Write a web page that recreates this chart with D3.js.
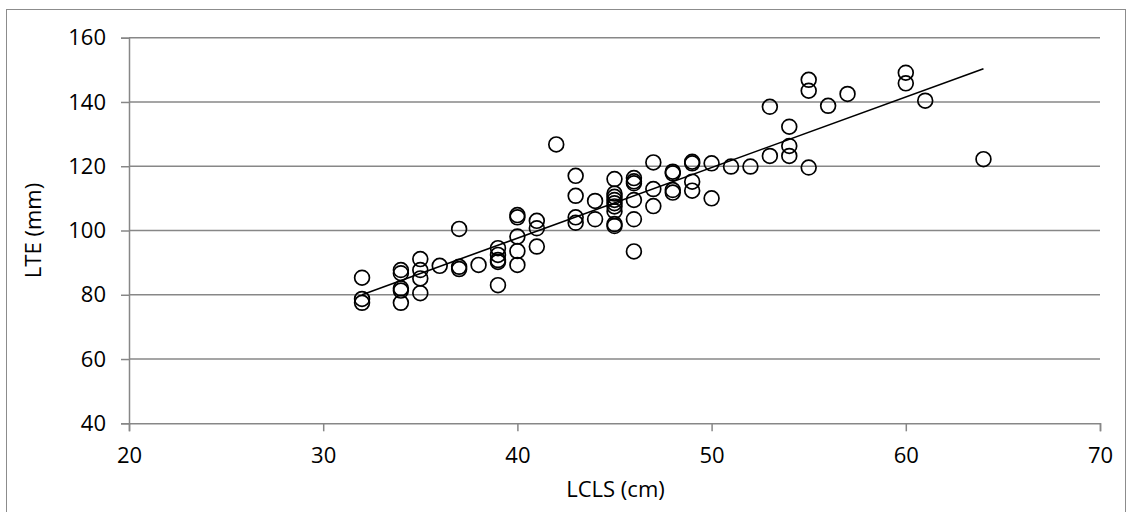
<!DOCTYPE html>
<html>
<head>
<meta charset="utf-8">
<script src="https://cdn.jsdelivr.net/npm/d3@7"></script>
<style>
  html, body { margin: 0; padding: 0; background: #fff; }
  svg { display: block; }
  text { font-family: "Open Sans", "Noto Sans", sans-serif; fill: #000; }
</style>
</head>
<body>
<svg id="chart" width="1131" height="512"></svg>
<script>
// LCLS (cm) for each specimen
const lcls = [
  32, 32, 32,
  34, 34, 34, 34, 34,
  35, 35, 35, 35,
  36,
  37, 37, 37,
  38,
  39, 39, 39, 39, 39,
  40, 40, 40, 40, 40,
  41, 41, 41,
  42,
  43, 43, 43, 43,
  44, 44,
  45, 45, 45, 45, 45, 45, 45, 45, 45,
  46, 46, 46, 46, 46, 46,
  47, 47, 47,
  48, 48, 48, 48,
  49, 49, 49, 49,
  50, 50,
  51,
  52,
  53, 53,
  54, 54, 54,
  55, 55, 55,
  56,
  57,
  60, 60,
  61,
  64
];

// LTE (mm) for each specimen, same order
const lte = [
  85.3, 78.7, 77.5,
  87.7, 86.7, 82.0, 81.3, 77.5,
  91.1, 87.7, 85.1, 80.5,
  89.0,
  100.5, 88.7, 88.0,
  89.3,
  94.5, 92.4, 90.8, 90.2, 83.0,
  104.8, 104.1, 98.1, 93.6, 89.3,
  103.0, 100.7, 95.0,
  126.8,
  117.0, 110.8, 104.1, 102.4,
  109.2, 103.5,
  116.0, 111.5, 110.5, 109.5, 108.5, 107.5, 106.0, 102.0, 101.4,
  116.3, 115.3, 114.7, 109.5, 103.5, 93.5,
  121.2, 112.9, 107.6,
  118.3, 117.8, 112.6, 111.8,
  121.4, 120.9, 115.2, 112.4,
  120.9, 110.0,
  119.9,
  119.9,
  138.5, 123.2,
  132.3, 126.3, 123.2,
  146.9, 143.5, 119.6,
  138.8,
  142.5,
  149.1, 145.8,
  140.4,
  122.2
];

const xTicks = [20, 30, 40, 50, 60, 70];
const yTicks = [40, 60, 80, 100, 120, 140, 160];

const svg = d3.select("#chart");
const margin = { left: 129, right: 31, top: 37.7, bottom: 88.7 };
const W = 1131, H = 512;
const fontSize = 22;

const x = d3.scaleLinear().domain([20, 70]).range([margin.left, W - margin.right]);
const y = d3.scaleLinear().domain([40, 160]).range([H - margin.bottom, margin.top]);

const gridColor = "#878787";

// chart area frame
svg.append("rect")
  .attr("x", 6.5).attr("y", 9.5)
  .attr("width", 1119).attr("height", 510)
  .attr("fill", "none").attr("stroke", "#8c8c8c").attr("stroke-width", 1);

// horizontal gridlines
svg.append("g").selectAll("line")
  .data(yTicks.filter(d => d !== 40))
  .join("line")
  .attr("x1", x(20)).attr("x2", x(70))
  .attr("y1", d => y(d)).attr("y2", d => y(d))
  .attr("stroke", gridColor).attr("stroke-width", 1.5);

// y axis
const yAxis = svg.append("g")
  .attr("transform", `translate(${x(20)},0)`)
  .call(d3.axisLeft(y).tickValues(yTicks).tickSize(8).tickPadding(15).tickFormat(d3.format("d")));
yAxis.select(".domain").attr("stroke", gridColor).attr("stroke-width", 1.5);
yAxis.selectAll(".tick line").attr("stroke", gridColor).attr("stroke-width", 1.5);
yAxis.selectAll(".tick text").attr("font-size", fontSize).style("font-family", "'Open Sans', sans-serif");

// x axis
const xAxis = svg.append("g")
  .attr("transform", `translate(0,${y(40)})`)
  .call(d3.axisBottom(x).tickValues(xTicks).tickSize(8).tickPadding(16).tickFormat(d3.format("d")));
xAxis.select(".domain").attr("stroke", gridColor).attr("stroke-width", 1.5);
xAxis.selectAll(".tick line").attr("stroke", gridColor).attr("stroke-width", 1.5);
xAxis.selectAll(".tick text").attr("font-size", fontSize).style("font-family", "'Open Sans', sans-serif");

// axis titles
svg.append("text")
  .attr("x", (x(20) + x(70)) / 2 + 1).attr("y", 497)
  .attr("text-anchor", "middle").attr("font-size", fontSize)
  .text("LCLS (cm)");

svg.append("text")
  .attr("transform", `translate(41,${(y(40) + y(160)) / 2}) rotate(-90)`)
  .attr("text-anchor", "middle").attr("font-size", fontSize)
  .text("LTE (mm)");

// least-squares linear trend
const pts = lcls.map((v, i) => [v, lte[i]]);
const mx = d3.mean(lcls), my = d3.mean(lte);
const slope = d3.sum(pts, p => (p[0] - mx) * (p[1] - my)) / d3.sum(pts, p => (p[0] - mx) ** 2);
const intercept = my - slope * mx;
const xMin = d3.min(lcls), xMax = d3.max(lcls);

svg.append("line")
  .attr("x1", x(xMin)).attr("y1", y(intercept + slope * xMin))
  .attr("x2", x(xMax)).attr("y2", y(intercept + slope * xMax))
  .attr("stroke", "#000").attr("stroke-width", 1.6);

// markers
svg.append("g").selectAll("circle")
  .data(pts)
  .join("circle")
  .attr("cx", d => x(d[0])).attr("cy", d => y(d[1]))
  .attr("r", 7.4)
  .attr("fill", "none").attr("stroke", "#000").attr("stroke-width", 1.7);
</script>
</body>
</html>
